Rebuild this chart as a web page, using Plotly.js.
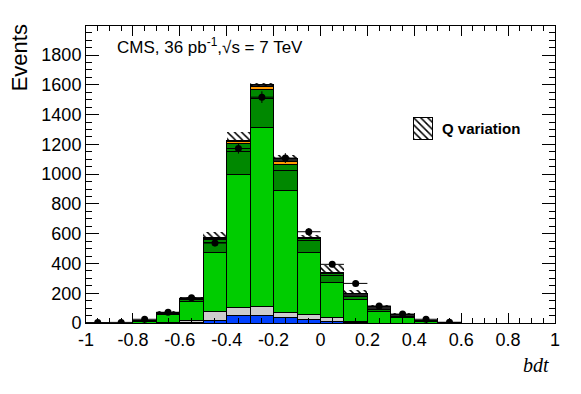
<!DOCTYPE html>
<html>
<head>
<meta charset="utf-8">
<script src="https://cdn.plot.ly/plotly-3.0.1.min.js"></script>
<style>
  html, body { margin: 0; padding: 0; background: #fff; }
  #plot { width: 581px; height: 394px; }
</style>
</head>
<body>
<div id="plot"></div>
<script>
// bdt bins (centres), 20 bins of width 0.1 from -1 to 1
const binCenters = [-0.95, -0.85, -0.75, -0.65, -0.55, -0.45, -0.35, -0.25, -0.15, -0.05,
                    0.05, 0.15, 0.25, 0.35, 0.45, 0.55, 0.65, 0.75, 0.85, 0.95];

// stacked contributions (events per bin), bottom to top
const blueEvents   = [0, 0, 0, 0, 5, 20, 49, 49, 38, 25, 13, 3, 0, 0, 0, 0, 0, 0, 0, 0];
const grayEvents   = [0, 0, 0, 3, 15, 56, 56, 65, 34, 29, 23, 10, 0, 0, 0, 0, 0, 0, 0, 0];
const lightGreen   = [0, 0, 12, 51, 123, 396, 893, 1199, 821, 418, 237, 148, 80, 38, 10, 2, 0, 0, 0, 0];
const darkGreen    = [0, 0, 3, 11, 17, 68, 156, 195, 134, 85, 45, 20, 12, 9, 3, 0, 0, 0, 0, 0];
const darkGreen2   = [0, 0, 0, 0, 0, 20, 51, 62, 38, 8, 12, 0, 0, 0, 0, 0, 0, 0, 0, 0];
const orangeEvents = [0, 0, 0, 0, 0, 6, 12, 20, 20, 3, 0, 0, 0, 0, 0, 0, 0, 0, 0, 0];
const blackEvents  = [0, 0, 3, 7, 6, 6, 11, 14, 20, 7, 10, 14, 18, 13, 5, 1, 0, 0, 0, 0];

// Q variation band
const qLow  = [0, 0, 0, 72, 166, 572, 1228, 1590, 1105, 575, 340, 195, 110, 60, 18, 0, 0, 0, 0, 0];
const qHigh = [0, 0, 0, 80, 177, 610, 1280, 1615, 1127, 590, 389, 221, 119, 69, 22, 0, 0, 0, 0, 0];

// data
const dataEvents = [3, 4, 25, 72, 170, 537, 1172, 1517, 1108, 613, 394, 266, 114, 60, 25, 5, null, null, null, null];
const dataErr    = [2, 2, 5, 9, 13, 23, 34, 39, 33, 25, 20, 16, 11, 8, 5, 2, 0, 0, 0, 0];

const xTickVals = [-1, -0.8, -0.6, -0.4, -0.2, 0, 0.2, 0.4, 0.6, 0.8, 1];
const xTickText = ["-1", "-0.8", "-0.6", "-0.4", "-0.2", "0", "0.2", "0.4", "0.6", "0.8", "1"];

const legendLabel = "Q variation";

const hatch = { shape: "\\", fgcolor: "#000", bgcolor: "rgba(0,0,0,0)", size: 5, solidity: 0.3 };

function stackBar(values, color) {
    return {
        type: "bar",
        x: binCenters,
        y: values.map(v => (v > 0 ? v : null)),
        width: 0.1,
        marker: { color: color, line: { color: "#000", width: 1 } },
        showlegend: false,
        hoverinfo: "skip"
    };
}

const traces = [
    stackBar(blueEvents, "#0040ff"),
    stackBar(grayEvents, "#cccccc"),
    stackBar(lightGreen, "#00cc00"),
    stackBar(darkGreen, "#008800"),
    stackBar(darkGreen2, "#008800"),
    stackBar(orangeEvents, "#ff9900"),
    stackBar(blackEvents, "#222222"),
    {
        type: "bar",
        name: legendLabel,
        x: binCenters,
        base: qLow,
        y: qHigh.map((h, i) => (h - qLow[i] > 0 ? h - qLow[i] : null)),
        width: 0.1,
        marker: { color: "rgba(0,0,0,0)", line: { width: 0 }, pattern: hatch },
        showlegend: false,
        hoverinfo: "skip"
    },
    {
        type: "scatter",
        mode: "markers",
        x: binCenters,
        y: dataEvents,
        marker: { color: "#000", size: 7 },
        error_y: { type: "data", array: dataErr, color: "#000", thickness: 1, width: 0 },
        error_x: { type: "constant", value: 0.05, color: "#000", thickness: 1, width: 0 },
        showlegend: false,
        hoverinfo: "skip"
    },
    // legend swatch for the Q variation band
    {
        type: "bar",
        x: [0],
        y: [1],
        width: 1,
        xaxis: "x2",
        yaxis: "y2",
        marker: { color: "rgba(0,0,0,0)", line: { color: "#000", width: 1 }, pattern: hatch },
        showlegend: false,
        hoverinfo: "skip"
    }
];

const layout = {
    width: 581,
    height: 394,
    margin: { l: 86, r: 26, t: 26, b: 71 },
    paper_bgcolor: "#fff",
    plot_bgcolor: "#fff",
    barmode: "stack",
    bargap: 0,
    showlegend: false,
    font: { family: "Liberation Sans, Arial, sans-serif", color: "#000", size: 18 },
    xaxis: {
        range: [-1, 1],
        tickvals: xTickVals,
        ticktext: xTickText,
        ticks: "inside",
        ticklen: 10,
        tickcolor: "#000",
        minor: { dtick: 0.05, ticks: "inside", ticklen: 5, tickcolor: "#000" },
        showline: true,
        linecolor: "#000",
        linewidth: 1,
        mirror: "ticks",
        showgrid: false,
        zeroline: false,
        tickfont: { size: 18 }
    },
    yaxis: {
        range: [0, 1995],
        dtick: 200,
        ticks: "inside",
        ticklen: 13,
        tickcolor: "#000",
        minor: { dtick: 50, ticks: "inside", ticklen: 6, tickcolor: "#000" },
        showline: true,
        linecolor: "#000",
        linewidth: 1,
        mirror: "ticks",
        showgrid: false,
        zeroline: false,
        tickfont: { size: 18 }
    },
    xaxis2: {
        domain: [0.693, 0.744],
        range: [-0.6, 0.6],
        anchor: "y2",
        visible: false,
        fixedrange: true
    },
    yaxis2: {
        domain: [0.61, 0.70],
        range: [-0.1, 1.1],
        anchor: "x2",
        visible: false,
        fixedrange: true
    },
    annotations: [
        {
            text: "CMS, 36 pb<sup>-1</sup>,√s = 7 TeV",
            xref: "paper", yref: "paper",
            x: 0.062, y: 0.933,
            xanchor: "left", yanchor: "middle",
            showarrow: false,
            font: { size: 17 }
        },
        {
            text: "<b>" + legendLabel + "</b>",
            xref: "paper", yref: "paper",
            x: 0.755, y: 0.655,
            xanchor: "left", yanchor: "middle",
            showarrow: false,
            font: { size: 15 }
        },
        {
            text: "<i>bdt</i>",
            xref: "paper", yref: "paper",
            x: 0.991, y: -0.141,
            xanchor: "right", yanchor: "middle",
            showarrow: false,
            font: { size: 20, family: "Liberation Serif, Times New Roman, serif" }
        },
        {
            text: "Events",
            xref: "paper", yref: "paper",
            x: -0.141, y: 1.0135,
            xanchor: "center", yanchor: "top",
            textangle: -90,
            showarrow: false,
            font: { size: 22 }
        }
    ]
};

Plotly.newPlot("plot", traces, layout, { staticPlot: true });
</script>
</body>
</html>
